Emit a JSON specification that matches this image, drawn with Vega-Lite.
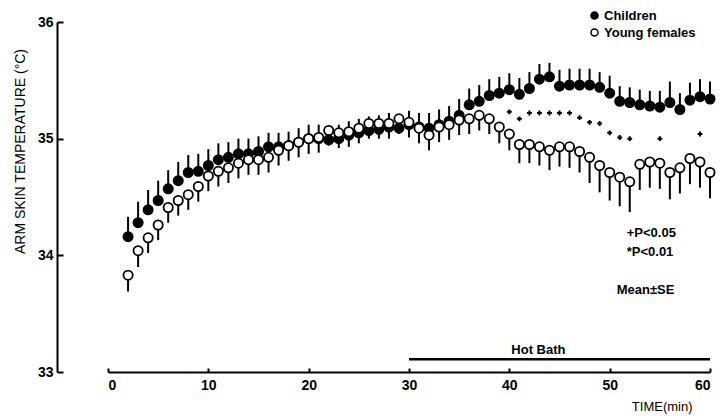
{
  "$schema": "https://vega.github.io/schema/vega-lite/v6.json",
  "width": 602,
  "height": 350,
  "autosize": {"type": "none"},
  "padding": {"left": 108, "top": 22, "right": 13, "bottom": 44},
  "background": "white",
  "data": {"values": [{}]},
  "config": {
    "view": {"stroke": null},
    "font": "Liberation Sans",
    "axis": {"grid": false, "domainColor": "black", "tickColor": "black", "labelColor": "black", "titleColor": "black", "domainWidth": 2, "tickWidth": 2}
  },
  "datasets": {
    "temps": [
      {"m": 2, "group": "Children", "temp": 34.16, "se": 0.17},
      {"m": 3, "group": "Children", "temp": 34.28, "se": 0.18},
      {"m": 4, "group": "Children", "temp": 34.39, "se": 0.17},
      {"m": 5, "group": "Children", "temp": 34.47, "se": 0.17},
      {"m": 6, "group": "Children", "temp": 34.57, "se": 0.16},
      {"m": 7, "group": "Children", "temp": 34.64, "se": 0.16},
      {"m": 8, "group": "Children", "temp": 34.71, "se": 0.15},
      {"m": 9, "group": "Children", "temp": 34.72, "se": 0.15},
      {"m": 10, "group": "Children", "temp": 34.77, "se": 0.14},
      {"m": 11, "group": "Children", "temp": 34.82, "se": 0.14},
      {"m": 12, "group": "Children", "temp": 34.84, "se": 0.13},
      {"m": 13, "group": "Children", "temp": 34.87, "se": 0.13},
      {"m": 14, "group": "Children", "temp": 34.87, "se": 0.13},
      {"m": 15, "group": "Children", "temp": 34.89, "se": 0.13},
      {"m": 16, "group": "Children", "temp": 34.93, "se": 0.12},
      {"m": 17, "group": "Children", "temp": 34.93, "se": 0.12},
      {"m": 18, "group": "Children", "temp": 34.94, "se": 0.12},
      {"m": 19, "group": "Children", "temp": 34.97, "se": 0.12},
      {"m": 20, "group": "Children", "temp": 35.0, "se": 0.12},
      {"m": 21, "group": "Children", "temp": 35.0, "se": 0.12},
      {"m": 22, "group": "Children", "temp": 34.99, "se": 0.12},
      {"m": 23, "group": "Children", "temp": 35.0, "se": 0.12},
      {"m": 24, "group": "Children", "temp": 35.03, "se": 0.12},
      {"m": 25, "group": "Children", "temp": 35.05, "se": 0.12},
      {"m": 26, "group": "Children", "temp": 35.07, "se": 0.12},
      {"m": 27, "group": "Children", "temp": 35.08, "se": 0.12},
      {"m": 28, "group": "Children", "temp": 35.1, "se": 0.12},
      {"m": 29, "group": "Children", "temp": 35.09, "se": 0.12},
      {"m": 30, "group": "Children", "temp": 35.12, "se": 0.12},
      {"m": 31, "group": "Children", "temp": 35.1, "se": 0.12},
      {"m": 32, "group": "Children", "temp": 35.09, "se": 0.13},
      {"m": 33, "group": "Children", "temp": 35.12, "se": 0.13},
      {"m": 34, "group": "Children", "temp": 35.15, "se": 0.13},
      {"m": 35, "group": "Children", "temp": 35.2, "se": 0.14},
      {"m": 36, "group": "Children", "temp": 35.29, "se": 0.14},
      {"m": 37, "group": "Children", "temp": 35.32, "se": 0.14},
      {"m": 38, "group": "Children", "temp": 35.37, "se": 0.14},
      {"m": 39, "group": "Children", "temp": 35.39, "se": 0.14},
      {"m": 40, "group": "Children", "temp": 35.42, "se": 0.14},
      {"m": 41, "group": "Children", "temp": 35.38, "se": 0.14},
      {"m": 42, "group": "Children", "temp": 35.43, "se": 0.14},
      {"m": 43, "group": "Children", "temp": 35.51, "se": 0.13},
      {"m": 44, "group": "Children", "temp": 35.53, "se": 0.12},
      {"m": 45, "group": "Children", "temp": 35.45, "se": 0.14},
      {"m": 46, "group": "Children", "temp": 35.46, "se": 0.14},
      {"m": 47, "group": "Children", "temp": 35.46, "se": 0.14},
      {"m": 48, "group": "Children", "temp": 35.46, "se": 0.14},
      {"m": 49, "group": "Children", "temp": 35.44, "se": 0.13},
      {"m": 50, "group": "Children", "temp": 35.39, "se": 0.15},
      {"m": 51, "group": "Children", "temp": 35.32, "se": 0.13},
      {"m": 52, "group": "Children", "temp": 35.31, "se": 0.13},
      {"m": 53, "group": "Children", "temp": 35.29, "se": 0.13},
      {"m": 54, "group": "Children", "temp": 35.28, "se": 0.13},
      {"m": 55, "group": "Children", "temp": 35.27, "se": 0.14},
      {"m": 56, "group": "Children", "temp": 35.31, "se": 0.18},
      {"m": 57, "group": "Children", "temp": 35.25, "se": 0.14},
      {"m": 58, "group": "Children", "temp": 35.33, "se": 0.15},
      {"m": 59, "group": "Children", "temp": 35.36, "se": 0.15},
      {"m": 60, "group": "Children", "temp": 35.34, "se": 0.15},
      {"m": 2, "group": "Young females", "temp": 33.83, "se": 0.14},
      {"m": 3, "group": "Young females", "temp": 34.04, "se": 0.14},
      {"m": 4, "group": "Young females", "temp": 34.15, "se": 0.13},
      {"m": 5, "group": "Young females", "temp": 34.26, "se": 0.13},
      {"m": 6, "group": "Young females", "temp": 34.41, "se": 0.13},
      {"m": 7, "group": "Young females", "temp": 34.47, "se": 0.13},
      {"m": 8, "group": "Young females", "temp": 34.52, "se": 0.13},
      {"m": 9, "group": "Young females", "temp": 34.59, "se": 0.13},
      {"m": 10, "group": "Young females", "temp": 34.68, "se": 0.13},
      {"m": 11, "group": "Young females", "temp": 34.72, "se": 0.13},
      {"m": 12, "group": "Young females", "temp": 34.75, "se": 0.13},
      {"m": 13, "group": "Young females", "temp": 34.79, "se": 0.13},
      {"m": 14, "group": "Young females", "temp": 34.82, "se": 0.13},
      {"m": 15, "group": "Young females", "temp": 34.82, "se": 0.13},
      {"m": 16, "group": "Young females", "temp": 34.84, "se": 0.13},
      {"m": 17, "group": "Young females", "temp": 34.9, "se": 0.13},
      {"m": 18, "group": "Young females", "temp": 34.94, "se": 0.13},
      {"m": 19, "group": "Young females", "temp": 34.97, "se": 0.13},
      {"m": 20, "group": "Young females", "temp": 35.0, "se": 0.13},
      {"m": 21, "group": "Young females", "temp": 35.01, "se": 0.13},
      {"m": 22, "group": "Young females", "temp": 35.07, "se": 0.13},
      {"m": 23, "group": "Young females", "temp": 35.05, "se": 0.13},
      {"m": 24, "group": "Young females", "temp": 35.06, "se": 0.13},
      {"m": 25, "group": "Young females", "temp": 35.09, "se": 0.13},
      {"m": 26, "group": "Young females", "temp": 35.13, "se": 0.13},
      {"m": 27, "group": "Young females", "temp": 35.13, "se": 0.13},
      {"m": 28, "group": "Young females", "temp": 35.13, "se": 0.13},
      {"m": 29, "group": "Young females", "temp": 35.17, "se": 0.13},
      {"m": 30, "group": "Young females", "temp": 35.14, "se": 0.13},
      {"m": 31, "group": "Young females", "temp": 35.09, "se": 0.13},
      {"m": 32, "group": "Young females", "temp": 35.03, "se": 0.13},
      {"m": 33, "group": "Young females", "temp": 35.1, "se": 0.13},
      {"m": 34, "group": "Young females", "temp": 35.12, "se": 0.13},
      {"m": 35, "group": "Young females", "temp": 35.16, "se": 0.13},
      {"m": 36, "group": "Young females", "temp": 35.17, "se": 0.13},
      {"m": 37, "group": "Young females", "temp": 35.2, "se": 0.13},
      {"m": 38, "group": "Young females", "temp": 35.17, "se": 0.13},
      {"m": 39, "group": "Young females", "temp": 35.1, "se": 0.14},
      {"m": 40, "group": "Young females", "temp": 35.04, "se": 0.14},
      {"m": 41, "group": "Young females", "temp": 34.95, "se": 0.16},
      {"m": 42, "group": "Young females", "temp": 34.95, "se": 0.16},
      {"m": 43, "group": "Young females", "temp": 34.93, "se": 0.16},
      {"m": 44, "group": "Young females", "temp": 34.9, "se": 0.17},
      {"m": 45, "group": "Young females", "temp": 34.93, "se": 0.17},
      {"m": 46, "group": "Young females", "temp": 34.93, "se": 0.18},
      {"m": 47, "group": "Young females", "temp": 34.89, "se": 0.18},
      {"m": 48, "group": "Young females", "temp": 34.84, "se": 0.22},
      {"m": 49, "group": "Young females", "temp": 34.77, "se": 0.23},
      {"m": 50, "group": "Young females", "temp": 34.71, "se": 0.24},
      {"m": 51, "group": "Young females", "temp": 34.67, "se": 0.25},
      {"m": 52, "group": "Young females", "temp": 34.63, "se": 0.26},
      {"m": 53, "group": "Young females", "temp": 34.78, "se": 0.22},
      {"m": 54, "group": "Young females", "temp": 34.8, "se": 0.22},
      {"m": 55, "group": "Young females", "temp": 34.79, "se": 0.22},
      {"m": 56, "group": "Young females", "temp": 34.71, "se": 0.23},
      {"m": 57, "group": "Young females", "temp": 34.75, "se": 0.22},
      {"m": 58, "group": "Young females", "temp": 34.83, "se": 0.22},
      {"m": 59, "group": "Young females", "temp": 34.8, "se": 0.22},
      {"m": 60, "group": "Young females", "temp": 34.71, "se": 0.22}
    ],
    "sig": [
      {"m": 40, "y": 35.23},
      {"m": 41, "y": 35.17},
      {"m": 42, "y": 35.22},
      {"m": 43, "y": 35.22},
      {"m": 44, "y": 35.22},
      {"m": 45, "y": 35.22},
      {"m": 46, "y": 35.22},
      {"m": 47, "y": 35.18},
      {"m": 48, "y": 35.14},
      {"m": 49, "y": 35.13},
      {"m": 50, "y": 35.05},
      {"m": 51, "y": 35.01},
      {"m": 52, "y": 35.0},
      {"m": 55, "y": 35.0},
      {"m": 59, "y": 35.04}
    ]
  },
  "layer": [
    {
      "data": {"name": "temps"},
      "transform": [
        {"calculate": "datum.group === 'Children' ? datum.temp + datum.se : datum.temp - datum.se", "as": "bar_end"}
      ],
      "mark": {"type": "rule", "color": "black", "strokeWidth": 2},
      "encoding": {
        "x": {"field": "m", "type": "quantitative", "scale": {"domain": [0, 60], "nice": false},
          "axis": {"values": [0, 10, 20, 30, 40, 50, 60], "format": "d", "tickSize": -4, "labelPadding": 10, "labelFontSize": 14, "labelFontWeight": "bold", "labelFont": "Liberation Sans",
            "title": "TIME(min)", "titleFont": "Liberation Sans", "titleFontSize": 13, "titleFontWeight": "normal", "titleAnchor": "end", "titleAlign": "right", "titleX": 584, "titleY": 34, "titleBaseline": "middle"}},
        "y": {"field": "temp", "type": "quantitative", "scale": {"domain": [33, 36], "nice": false, "zero": false},
          "axis": {"values": [33, 34, 35, 36], "format": "d", "offset": 51, "tickSize": -6, "labelPadding": 10, "labelFontSize": 14, "labelFontWeight": "bold", "labelFont": "Liberation Sans",
            "title": "ARM SKIN TEMPERATURE (°C)", "titleFont": "Liberation Sans", "titleFontSize": 14, "titleFontWeight": "normal", "titleX": -37, "titleY": 129, "titleAngle": -90, "titleBaseline": "middle", "titleAlign": "center"}},
        "y2": {"field": "bar_end"}
      }
    },
    {
      "data": {"name": "temps"},
      "mark": {"type": "point", "shape": "circle", "filled": true, "opacity": 1, "stroke": "black", "strokeWidth": 1.8, "size": 85},
      "encoding": {
        "x": {"field": "m", "type": "quantitative"},
        "y": {"field": "temp", "type": "quantitative"},
        "fill": {"field": "group", "type": "nominal", "scale": {"domain": ["Children", "Young females"], "range": ["black", "white"]},
          "legend": {"title": null, "orient": "none", "legendX": 480, "legendY": -13, "labelFont": "Liberation Sans", "labelFontSize": 13, "labelFontWeight": "bold", "labelColor": "black", "symbolStrokeColor": "black", "symbolStrokeWidth": 1.5, "symbolSize": 50, "rowPadding": 2, "labelOffset": 3}}
      }
    },
    {
      "data": {"name": "sig"},
      "mark": {"type": "point", "shape": "cross", "filled": true, "color": "black", "size": 24, "opacity": 1},
      "encoding": {
        "x": {"field": "m", "type": "quantitative"},
        "y": {"field": "y", "type": "quantitative"}
      }
    },
    {
      "mark": {"type": "rule", "color": "black", "strokeWidth": 2.5},
      "encoding": {
        "x": {"datum": 30},
        "x2": {"datum": 60},
        "y": {"datum": 33.11}
      }
    },
    {
      "mark": {"type": "text", "font": "Liberation Sans", "fontSize": 13, "fontWeight": "bold", "align": "center", "baseline": "middle", "color": "black"},
      "encoding": {"x": {"datum": 42.9}, "y": {"datum": 33.19}, "text": {"value": "Hot Bath"}}
    },
    {
      "mark": {"type": "text", "font": "Liberation Sans", "fontSize": 13, "fontWeight": "bold", "align": "left", "baseline": "middle", "color": "black"},
      "encoding": {"x": {"datum": 51.7}, "y": {"datum": 34.19}, "text": {"value": "+P<0.05"}}
    },
    {
      "mark": {"type": "text", "font": "Liberation Sans", "fontSize": 13, "fontWeight": "bold", "align": "left", "baseline": "middle", "color": "black"},
      "encoding": {"x": {"datum": 51.7}, "y": {"datum": 34.03}, "text": {"value": "*P<0.01"}}
    },
    {
      "mark": {"type": "text", "font": "Liberation Sans", "fontSize": 13, "fontWeight": "bold", "align": "left", "baseline": "middle", "color": "black"},
      "encoding": {"x": {"datum": 50.7}, "y": {"datum": 33.7}, "text": {"value": "Mean±SE"}}
    }
  ]
}
